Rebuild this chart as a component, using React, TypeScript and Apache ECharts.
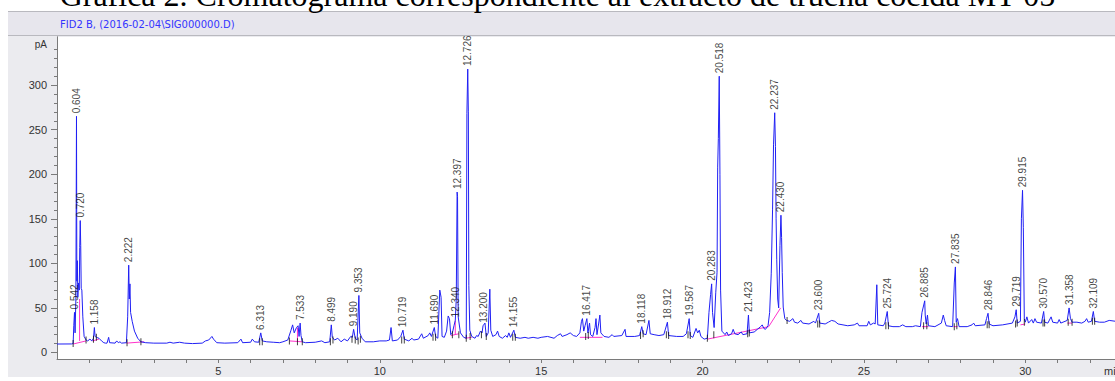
import React, { useEffect, useRef } from "react";
import * as echarts from "echarts";

// Title and header of the chromatogram panel
const TITLE = "Gráfica 2. Cromatograma correspondiente al extracto de trucha cocida MT-05";
const HEADER = "FID2 B, (2016-02-04\\SIG000000.D)";

// Axis ticks and labels
const X_LABELS = [5, 10, 15, 20, 25, 30];
const X_TICKS = Array.from({ length: 32 }, (_, i) => i + 1);
const Y_LABELS = [0, 50, 100, 150, 200, 250, 300];
const Y_MINOR = Array.from({ length: 35 }, (_, i) => i * 10);

// FID signal: [retention time (min), signal (pA)]
const trace: [number, number][] = [
  [0.0, 9.5], [0.45, 9.6], [0.5, 10], [0.52, 30], [0.542, 45], [0.56, 22], [0.585, 60], [0.604, 265],
  [0.615, 80], [0.63, 103], [0.645, 62], [0.665, 78], [0.69, 70], [0.705, 118], [0.72, 148], [0.735, 120],
  [0.75, 72], [0.77, 70], [0.8, 40], [0.84, 18], [0.9, 14], [0.95, 13], [1.02, 15], [1.08, 13], [1.13, 16],
  [1.158, 28], [1.18, 18], [1.22, 17], [1.3, 16], [1.38, 13], [1.45, 11], [1.5, 10.5], [1.55, 10.5],
  [1.6, 17], [1.63, 11], [1.8, 10.5], [1.85, 13], [1.9, 11], [1.95, 12], [2.0, 10.5], [2.15, 11], [2.19, 40],
  [2.222, 98], [2.24, 60], [2.26, 77], [2.28, 45], [2.33, 35], [2.4, 24], [2.5, 16], [2.6, 12], [2.75, 11],
  [3.0, 10.5], [3.4, 10.5], [3.5, 11.5], [3.6, 10.5], [3.8, 11.5], [3.95, 10.5], [4.2, 10], [4.5, 10.5],
  [4.6, 13], [4.7, 14], [4.8, 18], [4.85, 15], [4.95, 11], [5.2, 10.5], [5.6, 11], [5.7, 15], [5.75, 11],
  [6.0, 11.5], [6.05, 15], [6.12, 12], [6.25, 11.5], [6.313, 22], [6.36, 13], [6.5, 12], [6.7, 11.5],
  [6.9, 11], [7.0, 12], [7.15, 14], [7.25, 25], [7.3, 31], [7.35, 22], [7.42, 28], [7.47, 30], [7.5, 18],
  [7.533, 33], [7.56, 19], [7.6, 12], [7.7, 11], [8.0, 11.5], [8.2, 13], [8.3, 11], [8.45, 12], [8.499, 31],
  [8.53, 17], [8.6, 14], [8.7, 16], [8.8, 12], [8.9, 15], [9.0, 13], [9.1, 18], [9.15, 17], [9.19, 26],
  [9.24, 16], [9.3, 14], [9.353, 64], [9.38, 22], [9.45, 16], [9.55, 12], [9.8, 12], [10.0, 13], [10.2, 13],
  [10.3, 14], [10.35, 28], [10.39, 13], [10.55, 14], [10.65, 18], [10.719, 25], [10.76, 15], [10.9, 13],
  [11.0, 16], [11.05, 14], [11.2, 15], [11.3, 21], [11.35, 16], [11.5, 19], [11.55, 22], [11.6, 18],
  [11.69, 28], [11.73, 18], [11.8, 16], [11.86, 70], [11.9, 62], [11.93, 18], [12.0, 17], [12.07, 24],
  [12.12, 41], [12.16, 38], [12.2, 20], [12.25, 22], [12.3, 30], [12.34, 36], [12.37, 60], [12.397, 180],
  [12.41, 175], [12.43, 40], [12.5, 22], [12.6, 17], [12.68, 16], [12.7, 268], [12.726, 318], [12.745, 270],
  [12.76, 75], [12.79, 25], [12.85, 18], [12.95, 16], [13.0, 19], [13.05, 18], [13.12, 24], [13.17, 22],
  [13.2, 30], [13.26, 33], [13.3, 18], [13.36, 22], [13.41, 71], [13.44, 25], [13.5, 18], [13.6, 20],
  [13.65, 24], [13.7, 18], [13.8, 16], [13.9, 19], [13.95, 17], [14.0, 22], [14.05, 17], [14.155, 25],
  [14.2, 17], [14.35, 16], [14.5, 17], [14.6, 16], [14.75, 17], [14.9, 16], [15.0, 17], [15.2, 18],
  [15.4, 16], [15.5, 19], [15.6, 21], [15.65, 18], [15.8, 20], [15.9, 22], [16.0, 19], [16.1, 18],
  [16.2, 22], [16.25, 35], [16.28, 38], [16.32, 24], [16.36, 30], [16.417, 38], [16.45, 22], [16.5, 33],
  [16.53, 20], [16.6, 18], [16.67, 28], [16.7, 38], [16.73, 20], [16.78, 32], [16.82, 42], [16.85, 22],
  [16.95, 18], [17.1, 17], [17.2, 20], [17.25, 18], [17.5, 19], [17.6, 26], [17.63, 18], [17.9, 18],
  [18.05, 19], [18.118, 29], [18.16, 21], [18.25, 20], [18.34, 36], [18.38, 21], [18.5, 20], [18.65, 19],
  [18.8, 20], [18.912, 34], [18.95, 19], [19.2, 18], [19.4, 18], [19.5, 21], [19.587, 38], [19.62, 19],
  [19.7, 17], [19.8, 27], [19.85, 22], [19.9, 25], [19.95, 18], [20.05, 15], [20.15, 16], [20.2, 45],
  [20.25, 65], [20.283, 77], [20.31, 45], [20.36, 28], [20.41, 67], [20.45, 90], [20.47, 208], [20.49, 240],
  [20.518, 310], [20.54, 200], [20.56, 70], [20.6, 24], [20.7, 20], [20.75, 23], [20.8, 19], [20.9, 21],
  [20.95, 26], [21.0, 21], [21.1, 20], [21.2, 23], [21.25, 20], [21.38, 21], [21.423, 42], [21.45, 22],
  [21.6, 23], [21.7, 26], [21.8, 29], [21.85, 31], [21.9, 27], [21.95, 26], [22.03, 30], [22.08, 45],
  [22.13, 89], [22.17, 160], [22.2, 233], [22.237, 269], [22.26, 231], [22.28, 150], [22.3, 104],
  [22.33, 60], [22.36, 50], [22.4, 120], [22.43, 154], [22.45, 129], [22.47, 90], [22.5, 51], [22.55, 38],
  [22.6, 36], [22.7, 35], [22.8, 38], [22.85, 34], [22.95, 33], [23.05, 36], [23.1, 33], [23.3, 32],
  [23.45, 35], [23.5, 33], [23.6, 44], [23.63, 33], [23.8, 32], [23.9, 34], [24.0, 36], [24.1, 35],
  [24.2, 32], [24.5, 30], [24.7, 31], [24.8, 33], [24.85, 30], [25.1, 30], [25.15, 35], [25.2, 31],
  [25.3, 33], [25.35, 32], [25.4, 76], [25.43, 31], [25.6, 30], [25.65, 33], [25.724, 46], [25.76, 30],
  [25.9, 29], [26.1, 29], [26.2, 31], [26.3, 29], [26.5, 29], [26.6, 30], [26.75, 29], [26.8, 45],
  [26.885, 58], [26.9, 42], [26.93, 32], [26.97, 42], [27.0, 30], [27.2, 29], [27.4, 33], [27.46, 42],
  [27.5, 36], [27.55, 30], [27.75, 29], [27.8, 78], [27.835, 96], [27.86, 34], [27.9, 38], [27.95, 29],
  [28.2, 29], [28.35, 31], [28.4, 33], [28.45, 30], [28.75, 31], [28.8, 38], [28.846, 44], [28.88, 32],
  [29.0, 30], [29.3, 31], [29.6, 33], [29.68, 40], [29.719, 48], [29.75, 33], [29.85, 35], [29.88, 150],
  [29.915, 182], [29.94, 140], [29.97, 38], [30.0, 34], [30.05, 40], [30.1, 33], [30.2, 37], [30.25, 33],
  [30.3, 38], [30.35, 34], [30.5, 33], [30.57, 46], [30.6, 34], [30.7, 33], [30.8, 40], [30.85, 34],
  [31.0, 33], [31.05, 37], [31.1, 33], [31.3, 36], [31.358, 50], [31.4, 38], [31.45, 34], [31.6, 34],
  [31.75, 33], [31.85, 35], [31.9, 38], [31.95, 34], [32.05, 35], [32.109, 46], [32.15, 35], [32.3, 34],
  [32.45, 34], [32.6, 36], [32.8, 35],
];

// Integrated peaks: retention-time label and apex signal (pA)
const peakLabels = [
  "0.542", "0.604", "0.720", "1.158", "2.222", "6.313", "7.533", "8.499", "9.190", "9.353",
  "10.719", "11.690", "12.340", "12.397", "12.726", "13.200", "14.155", "16.417", "18.118", "18.912",
  "19.587", "20.283", "20.518", "21.423", "22.237", "22.430", "23.600", "25.724", "26.885", "27.835",
  "28.846", "29.719", "29.915", "30.570", "31.358", "32.109",
];
const peakHeights = [
  45, 265, 148, 28, 98, 22, 33, 31, 26, 64,
  25, 28, 36, 180, 318, 30, 25, 38, 29, 34,
  38, 77, 310, 42, 269, 154, 44, 46, 58, 96,
  44, 48, 182, 46, 50, 46,
];

// Integration baselines (pink)
const baselines: [number, number][][] = [
  [[0.5, 9.5], [0.9, 13]],
  [[0.7, 13], [0.7, 60]],
  [[1.1, 13], [1.3, 15]],
  [[2.15, 10.5], [2.7, 12]],
  [[7.2, 13], [7.6, 12]],
  [[7.45, 12.5], [7.45, 28]],
  [[12.2, 19], [12.45, 21]],
  [[12.34, 20], [12.34, 36]],
  [[12.65, 16], [12.85, 17]],
  [[16.2, 17], [16.9, 17]],
  [[20.15, 15], [22.05, 29], [22.42, 50]],
  [[26.8, 29], [27.0, 29]],
  [[27.78, 29], [27.9, 29]],
  [[29.85, 31], [30.0, 32]],
  [[31.3, 33], [31.45, 33]],
];

// Peak start/end markers
const markers: [number, number][] = [
  [0.5, 10], [0.9, 14], [1.13, 15], [1.22, 17], [2.17, 11], [2.6, 12], [6.28, 12], [6.36, 12],
  [7.2, 13], [7.45, 12], [7.6, 12], [8.47, 12], [8.55, 14], [9.14, 15], [9.24, 14], [9.33, 13],
  [9.4, 15], [10.68, 14], [10.76, 14], [11.65, 17], [11.73, 17], [12.25, 20], [12.45, 20],
  [12.68, 16], [12.8, 18], [13.15, 20], [13.3, 18], [14.12, 17], [14.2, 17], [16.38, 18],
  [16.46, 19], [18.08, 19], [18.16, 21], [18.88, 20], [18.95, 19], [19.55, 20], [19.62, 19],
  [20.15, 16], [20.35, 20], [21.4, 21], [21.45, 22], [22.62, 36], [23.57, 32], [23.63, 32],
  [25.68, 30], [25.76, 30], [26.85, 30], [26.95, 30], [27.8, 29], [27.88, 30], [28.82, 31],
  [28.88, 31], [29.7, 32], [29.75, 33], [29.97, 34], [30.55, 33], [30.6, 33], [31.33, 34],
  [31.45, 34], [32.08, 35], [32.15, 35],
];

const X_MIN = 0;
const X_MAX = 32.78;
const Y_MIN = -7.3;
const Y_MAX = 354;

const AXIS_GRAY = "#7a7a7a";
const SANS = "Liberation Sans, Arial, sans-serif";

export default function App() {
  const ref = useRef<HTMLDivElement>(null);

  useEffect(() => {
    if (!ref.current) return;
    const chart = echarts.init(ref.current, null, { renderer: "svg" });

    const yAxisBase = {
      type: "value" as const,
      min: Y_MIN,
      max: Y_MAX,
      position: "left" as const,
      splitLine: { show: false },
      axisLine: { show: true, lineStyle: { color: AXIS_GRAY, width: 1 } },
    };

    chart.setOption({
      animation: false,
      grid: {
        left: 57,
        right: 0,
        top: 37,
        bottom: 22,
        show: true,
        backgroundColor: "#ffffff",
        borderWidth: 0,
      },
      xAxis: {
        type: "value",
        min: X_MIN,
        max: X_MAX,
        splitLine: { show: false },
        axisLine: { show: true, onZero: false, lineStyle: { color: AXIS_GRAY, width: 1 } },
        axisTick: {
          show: true,
          length: 4,
          customValues: X_TICKS,
          lineStyle: { color: AXIS_GRAY },
        },
        axisLabel: {
          customValues: X_LABELS,
          color: "#333",
          fontSize: 11,
          fontFamily: SANS,
          margin: 6,
        },
      },
      yAxis: [
        {
          ...yAxisBase,
          axisTick: { show: true, length: 6, customValues: Y_LABELS, lineStyle: { color: AXIS_GRAY } },
          axisLabel: {
            customValues: Y_LABELS,
            color: "#333",
            fontSize: 11,
            fontFamily: SANS,
            margin: 10,
          },
        },
        {
          ...yAxisBase,
          axisTick: { show: true, length: 3, customValues: Y_MINOR, lineStyle: { color: AXIS_GRAY } },
          axisLabel: { show: false },
        },
      ],
      series: [
        ...baselines.map((seg) => ({
          type: "line",
          data: seg,
          showSymbol: false,
          silent: true,
          z: 1,
          lineStyle: { color: "#ff33cc", width: 1 },
        })),
        {
          type: "line",
          data: trace,
          showSymbol: false,
          silent: true,
          z: 2,
          lineStyle: { color: "#2020f4", width: 1 },
        },
        {
          type: "scatter",
          data: markers,
          symbol: "rect",
          symbolSize: [1, 7],
          silent: true,
          z: 3,
          itemStyle: { color: "#111" },
        },
        {
          type: "scatter",
          data: peakLabels.map((name, i) => ({ name, value: [parseFloat(name), peakHeights[i]] })),
          symbolSize: 0,
          silent: true,
          z: 4,
          label: {
            show: true,
            formatter: (p: any) => p.name,
            position: "top",
            distance: 3,
            rotate: 90,
            align: "left",
            verticalAlign: "middle",
            color: "#111",
            fontSize: 10,
            fontFamily: SANS,
          },
        },
      ],
      graphic: [
        {
          type: "text",
          left: "center",
          top: -21,
          style: {
            text: TITLE,
            font: "32px 'Liberation Serif', 'Times New Roman', serif",
            fill: "#000",
          },
        },
        {
          type: "text",
          x: 60,
          y: 24,
          style: {
            text: HEADER,
            font: "10px 'DejaVu Sans', Arial, sans-serif",
            fill: "#3434ff",
            verticalAlign: "middle",
          },
        },
        {
          type: "text",
          x: 47,
          y: 44,
          style: {
            text: "pA",
            font: "10px 'Liberation Sans', Arial, sans-serif",
            fill: "#333",
            align: "right",
            verticalAlign: "middle",
          },
        },
        {
          type: "text",
          x: 1104,
          y: 371,
          style: {
            text: "min",
            font: "11px 'Liberation Sans', Arial, sans-serif",
            fill: "#333",
            verticalAlign: "middle",
          },
        },
      ],
    });

    return () => chart.dispose();
  }, []);

  return (
    <div style={{ position: "absolute", left: 0, top: 0, width: 1115, height: 381, background: "#fff", overflow: "hidden" }}>
      <div style={{ position: "absolute", left: 8, top: 11, width: 1107, height: 366, background: "#ebebef" }} />
      <div
        style={{
          position: "absolute",
          left: 8,
          top: 11,
          width: 1107,
          height: 23,
          background: "#e7e6ed",
          borderTop: "1px solid #b9b9bf",
          borderBottom: "1px solid #b9b9bf",
        }}
      />
      <div ref={ref} style={{ position: "absolute", left: 0, top: 0, width: 1115, height: 381 }} />
    </div>
  );
}
